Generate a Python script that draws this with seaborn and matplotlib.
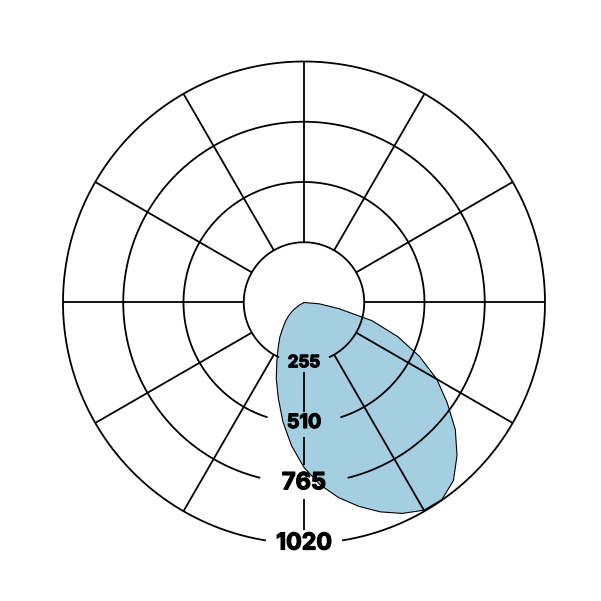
import numpy as np
import matplotlib
matplotlib.use("Agg")
import matplotlib.pyplot as plt
import matplotlib.patheffects as pe
import seaborn as sns

# ---- data ----
angle_deg = [0, -5, -10, -15, -20, -25, -30, -35, -40, -45, -50, -55, -60, -65,
             -70, -75, -80, -85, -90, -95, -100, -105, -110, -115, -120, -125,
             -130, -135, -140, -145, -150, -155]
radius = [0, 65, 150, 298, 422, 539, 649, 740, 836, 916, 984, 1018, 1015, 985,
          943, 893, 838, 774, 698, 608, 513, 420, 343, 272, 218, 178,
          138, 110, 82, 55, 25, 0]
ring_values = [255, 510, 765, 1020]
ring_labels = ["255", "510", "765", "1020"]
spoke_angles = list(range(0, 360, 30))

# ---- styling ----
label_sizes = [12.2, 14.2, 17.0, 16.7]
ring_gap_deg = [24.5, 17.6, 14.0, 9.1]
bottom_spoke_pieces = [(293, 462), (568, 688), (833, 963)]
fill_color = "#a6cee3"
grid_lw = 1.3

sns.set_theme(style="white")
plt.rcParams["font.family"] = ["Inter", "DejaVu Sans"]

fig = plt.figure(figsize=(6.01, 6.01), dpi=100)
ax = fig.add_axes([0.1048, 0.0957, 0.802, 0.802], projection="polar")
ax.set_ylim(0, ring_values[-1])
ax.grid(False)
ax.set_xticks([])
ax.set_yticks([])
ax.spines["polar"].set_visible(False)
ax.set_facecolor("white")

theta = np.deg2rad(angle_deg)
ax.fill(theta, radius, color=fill_color, zorder=1, linewidth=0)
sns.lineplot(x=theta, y=radius, sort=False, estimator=None, ax=ax,
             color="black", linewidth=0.8, zorder=2)

# rings with gaps around the labels at the bottom
for rv, g in zip(ring_values, ring_gap_deg):
    t = np.deg2rad(np.linspace(-90 + g, 270 - g, 400))
    ax.plot(t, np.full_like(t, rv), color="black", lw=grid_lw, zorder=3,
            solid_capstyle="butt", clip_on=False)

# spokes from the first ring outwards
for a in spoke_angles:
    if a == 270:
        for r0, r1 in bottom_spoke_pieces:
            ax.plot([np.deg2rad(a)] * 2, [r0, r1], color="black", lw=grid_lw,
                    zorder=3, solid_capstyle="butt", clip_on=False)
    else:
        ax.plot([np.deg2rad(a)] * 2, [ring_values[0], ring_values[-1]],
                color="black", lw=grid_lw, zorder=3, solid_capstyle="butt",
                clip_on=False)

for rv, lab, fs in zip(ring_values, ring_labels, label_sizes):
    ax.text(np.deg2rad(270), rv, lab, ha="center", va="center", fontsize=fs,
            fontweight="bold", color="black", zorder=4,
            path_effects=[pe.withStroke(linewidth=0.9, foreground="black")])

fig.savefig("out.png", dpi=100, facecolor="white")
